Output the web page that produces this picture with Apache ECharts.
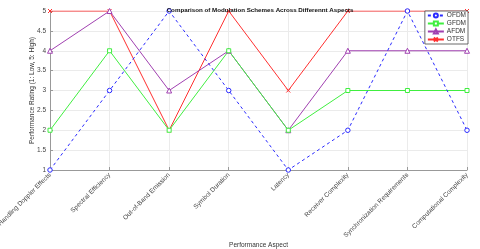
<!DOCTYPE html>
<html><head><meta charset="utf-8">
<script src="https://cdn.jsdelivr.net/npm/echarts@6/dist/echarts.min.js"></script>
<style>html,body{margin:0;padding:0;background:#fff}#c{width:480px;height:249px}</style>
</head><body><div id="c"></div>
<script>
const categories = ['Handling Doppler Effects','Spectral Efficiency','Out-of-Band Emission','Symbol Duration','Latency','Receiver Complexity','Synchronization Requirements','Computational Complexity'];
const ofdm = [1, 3, 5, 3, 1, 2, 5, 2];
const gfdm = [2, 4, 2, 4, 2, 3, 3, 3];
const afdm = [4, 5, 3, 4, 2, 4, 4, 4];
const otfs = [5, 5, 2, 5, 3, 5, 5, 5];
const yTicks = [1, 1.5, 2, 2.5, 3, 3.5, 4, 4.5, 5];

const chart = echarts.init(document.getElementById('c'), null, {renderer:'canvas'});
const font = 'Liberation Sans, Arial, sans-serif';
function mk(name, data, color, type, symbol, size) {
  return {
    name, type:'line', data, symbol, symbolSize:size, showSymbol:true,
    lineStyle:{color, width:1, type},
    itemStyle:{color:'#fff', borderColor:color, borderWidth:1},
    emphasis:{disabled:true}, animation:false, z: 2
  };
}
chart.setOption({
  animation:false,
  title:{text:'Comparison of Modulation Schemes Across Differennt Aspects', left:255, top:2, textAlign:'center',
    textStyle:{fontSize:6.2, fontWeight:'bold', color:'#111', fontFamily:font}},
  legend:{right:12, top:11, orient:'vertical', itemGap:1, itemWidth:16, itemHeight:5,
    backgroundColor:'#fff', borderColor:'#444', borderWidth:0.8, padding:[1,2,1,2], borderRadius:0,
    textStyle:{fontSize:6.5, color:'#333', fontFamily:font, padding:[0,0,0,-2]}, data:['OFDM','GFDM','AFDM','OTFS']},
  grid:{left:50, right:13, top:11, bottom:79, containLabel:false, outerBoundsMode:'none'},
  xAxis:{type:'category', data:categories, boundaryGap:false,
    name:'Performance Aspect', nameLocation:'middle', nameGap:72, nameMoveOverlap:false,
    nameTextStyle:{fontSize:6.5, color:'#333', fontFamily:font},
    axisLine:{lineStyle:{color:'#999'}}, axisTick:{show:true, inside:true, length:3, lineStyle:{color:'#999'}},
    axisLabel:{rotate:45, fontSize:6.5, color:'#444', fontFamily:font, margin:4, interval:0},
    splitLine:{show:true, lineStyle:{color:'#ebebeb', width:1}}},
  yAxis:{type:'value', min:1, max:5, interval:0.5,
    name:'Performance Rating (1: Low, 5: High)', nameLocation:'middle', nameGap:14, nameMoveOverlap:false,
    nameTextStyle:{fontSize:6.5, color:'#333', fontFamily:font},
    axisLine:{show:true, lineStyle:{color:'#999'}}, axisTick:{show:true, inside:true, length:3, lineStyle:{color:'#999'}},
    axisLabel:{fontSize:6.5, color:'#444', fontFamily:font, margin:4,
      formatter:v => yTicks.includes(v) ? String(v) : ''},
    splitLine:{show:true, lineStyle:{color:'#ebebeb', width:1}}},
  series:[
    mk('OTFS', otfs, '#ff3030', 'solid', 'path://M0,0L10,10M10,0L0,10', 4),
    mk('AFDM', afdm, '#a040b0', 'solid', 'triangle', 5),
    mk('GFDM', gfdm, '#40ee40', 'solid', 'rect', 4),
    mk('OFDM', ofdm, '#2a2aff', [3,3], 'circle', 4.5)
  ]
});
</script></body></html>
